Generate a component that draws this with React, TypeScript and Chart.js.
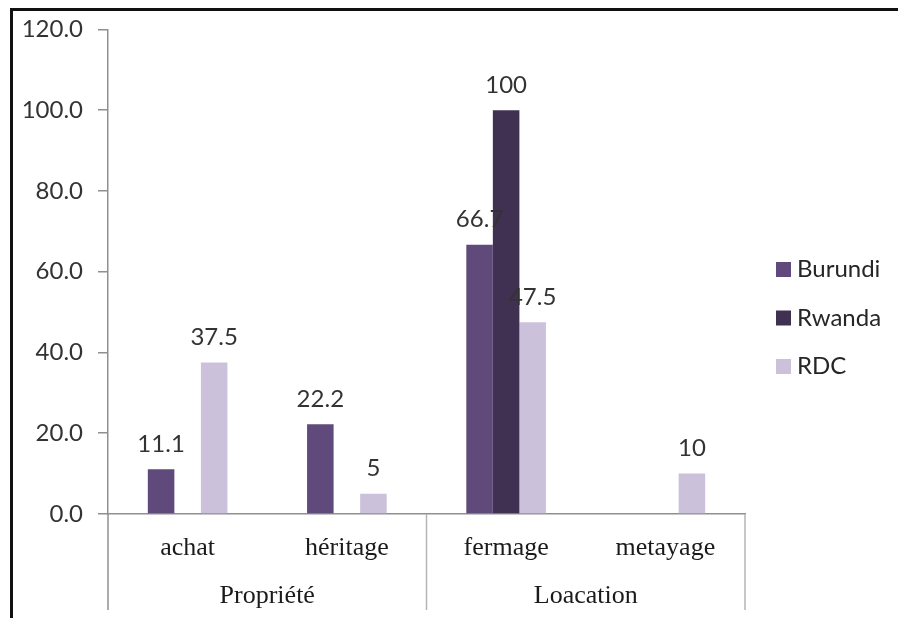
import React, { useEffect, useRef } from "react";
import { Chart, registerables } from "chart.js";

Chart.register(...registerables);

// Land access modes, grouped by tenure type
const categories = ["achat", "héritage", "fermage", "metayage"];
const groups = ["Propriété", "Loacation"];
const groupSizes = [2, 2];

// Share of households (%) per country
const burundi: (number | null)[] = [11.1, 22.2, 66.7, null];
const rwanda: (number | null)[] = [null, null, 100, null];
const rdc: (number | null)[] = [37.5, 5, 47.5, 10];

const seriesNames = ["Burundi", "Rwanda", "RDC"];
const seriesColors = ["#604a7b", "#403152", "#ccc1da"];

const yMin = 0;
const yMax = 120;
const yStep = 20;

const SANS = "Lato, 'Open Sans', sans-serif";
const SERIF = "'Liberation Serif', 'Times New Roman', serif";
const AXIS_COLOR = "#8f8f8f";
const TEXT_COLOR = "#333333";

// Data labels above each bar
const valueLabels = {
  id: "valueLabels",
  afterDatasetsDraw(chart: any) {
    const ctx = chart.ctx;
    ctx.save();
    ctx.font = `24px ${SANS}`;
    ctx.fillStyle = TEXT_COLOR;
    ctx.textAlign = "center";
    ctx.textBaseline = "alphabetic";
    chart.data.datasets.forEach((ds: any, di: number) => {
      const meta = chart.getDatasetMeta(di);
      meta.data.forEach((bar: any, i: number) => {
        const v = ds.data[i];
        if (v === null || v === undefined) return;
        ctx.fillText(String(v), bar.x, bar.y - 17.5);
      });
    });
    ctx.restore();
  },
};

// Two-level category axis, legend and outer frame
const decorations = {
  id: "decorations",
  afterDraw(chart: any) {
    const ctx = chart.ctx;
    const area = chart.chartArea;
    const xs = chart.scales.x;
    const lineBottom = 610;

    ctx.save();

    // separators of the grouped category axis
    const bounds: number[] = [area.left];
    let idx = 0;
    groupSizes.forEach((n, gi) => {
      idx += n;
      if (gi < groupSizes.length - 1) {
        bounds.push((xs.getPixelForValue(idx - 1) + xs.getPixelForValue(idx)) / 2);
      }
    });
    bounds.push(area.right);

    ctx.strokeStyle = AXIS_COLOR;
    ctx.lineWidth = 1.5;
    bounds.forEach((bx, k) => {
      ctx.strokeStyle = k === 0 ? AXIS_COLOR : "#b4b4b4";
      ctx.beginPath();
      ctx.moveTo(bx, area.bottom);
      ctx.lineTo(bx, lineBottom);
      ctx.stroke();
    });

    // category labels
    ctx.fillStyle = "#1a1a1a";
    ctx.font = `26px ${SERIF}`;
    ctx.textAlign = "center";
    ctx.textBaseline = "alphabetic";
    categories.forEach((c, i) => {
      ctx.fillText(c, xs.getPixelForValue(i), 555);
    });

    // group labels
    groups.forEach((g, gi) => {
      const cx = (bounds[gi] + bounds[gi + 1]) / 2;
      ctx.fillText(g, cx, 603);
    });

    // legend
    ctx.font = `24px ${SANS}`;
    ctx.textAlign = "left";
    seriesNames.forEach((name, i) => {
      const base = 277 + i * 48.5;
      ctx.fillStyle = seriesColors[i];
      ctx.fillRect(776, base - 15, 15, 15);
      ctx.fillStyle = "#262626";
      ctx.fillText(name, 797, base);
    });

    // outer frame
    ctx.fillStyle = "#111111";
    ctx.fillRect(10, 8, chart.width - 10, 3);
    ctx.fillRect(10, 8, 3, chart.height - 8);

    ctx.restore();
  },
};

export default function App() {
  const canvasRef = useRef<HTMLCanvasElement | null>(null);

  useEffect(() => {
    if (!canvasRef.current) return;
    const seriesData = [burundi, rwanda, rdc];
    const chart = new Chart(canvasRef.current, {
      type: "bar",
      data: {
        labels: categories,
        datasets: seriesNames.map((name, i) => ({
          label: name,
          data: seriesData[i] as any,
          backgroundColor: seriesColors[i],
          borderWidth: 0,
          categoryPercentage: 0.5,
          barPercentage: 1,
        })),
      },
      options: {
        responsive: false,
        animation: false,
        layout: { padding: { top: 26, right: 153, bottom: 0, left: 0 } },
        plugins: {
          legend: { display: false },
          tooltip: { enabled: false },
          title: { display: false },
        },
        scales: {
          x: {
            grid: { display: false },
            border: { display: true, color: AXIS_COLOR, width: 1.5 },
            ticks: { display: false },
            afterFit: (s: any) => {
              s.height = 104;
            },
          },
          y: {
            min: yMin,
            max: yMax,
            ticks: {
              stepSize: yStep,
              padding: 15,
              color: TEXT_COLOR,
              font: { family: SANS, size: 24 },
              callback: (v: any) => Number(v).toFixed(1),
            },
            grid: {
              drawOnChartArea: false,
              drawTicks: true,
              tickLength: 10,
              color: AXIS_COLOR,
              lineWidth: 1.5,
            },
            border: { display: true, color: AXIS_COLOR, width: 1.5 },
            afterFit: (s: any) => {
              s.width = 108;
            },
          },
        },
      },
      plugins: [valueLabels, decorations],
    });
    return () => chart.destroy();
  }, []);

  return (
    <div
      style={{
        position: "fixed",
        left: 0,
        top: 0,
        width: 898,
        height: 618,
        background: "#ffffff",
      }}
    >
      <canvas ref={canvasRef} width={898} height={618} />
    </div>
  );
}
